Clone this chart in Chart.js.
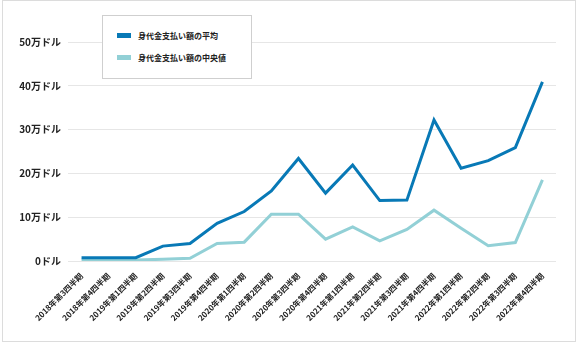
<!DOCTYPE html>
<html>
<head>
<meta charset="utf-8">
<script src="https://cdn.jsdelivr.net/npm/chart.js@4"></script>
<style>
  body { margin: 0; background: #fff; }
  #wrap { position: relative; width: 578px; height: 343px; }
  #frame { position: absolute; left: 2px; top: 0; width: 572px; height: 340px; border: 1px solid #dcdcdc; }
  #hist { position: absolute; left: 0; top: 0; }
  #legend {
    position: absolute; left: 102px; top: 15px; width: 148px; height: 62px;
    border: 1px solid #cfcfcf; background: #fff;
    font-family: "Noto Sans CJK JP", sans-serif; font-weight: bold; font-size: 8px; color: #222;
  }
  .item { position: absolute; left: 14px; height: 10px; line-height: 10px; }
  .sw { display: inline-block; width: 14px; height: 5px; vertical-align: middle; margin-right: 7px; position: relative; top: -1px; }
</style>
</head>
<body>
<div id="wrap">
  <div id="frame"></div>
  <canvas id="hist" width="578" height="343"></canvas>
  <div id="legend"></div>
</div>
<script>
var ctx = document.getElementById('hist').getContext('2d');
/*身代金支払い額*/
const quarters = ['2018年第3四半期', '2018年第4四半期', '2019年第1四半期', '2019年第2四半期', '2019年第3四半期', '2019年第4四半期',
  '2020年第1四半期', '2020年第2四半期', '2020年第3四半期', '2020年第4四半期', '2021年第1四半期', '2021年第2四半期',
  '2021年第3四半期', '2021年第4四半期', '2022年第1四半期', '2022年第2四半期', '2022年第3四半期', '2022年第4四半期'];
const seriesNames = ['身代金支払い額の平均', '身代金支払い額の中央値'];
const average = [7500, 7500, 7500, 34000, 40000, 86000, 113000, 160000, 234000, 155000, 219000, 138000, 139000, 322000, 212000, 229000, 259000, 409000];
const median = [2000, 2000, 2000, 4000, 6000, 40000, 43000, 107000, 107000, 50000, 78000, 46000, 72000, 116000, 75000, 35000, 42000, 185000];
const yTicks = [0, 100000, 200000, 300000, 400000, 500000];
const colors = ['#0879b6', '#92d0d6'];

var myChart = new Chart(ctx, {
    type: 'line',
    data: {
        labels: quarters,
        datasets: [{
            label: seriesNames[0],
            data: average,
            borderColor: colors[0],
            backgroundColor: colors[0],
            borderWidth: 3,
            pointRadius: 0,
            tension: 0
        }, {
            label: seriesNames[1],
            data: median,
            borderColor: colors[1],
            backgroundColor: colors[1],
            borderWidth: 3,
            pointRadius: 0,
            tension: 0
        }]
    },
    options: {
        responsive: false,
        animation: false,
        layout: { padding: { top: 42, right: 22, left: 0, bottom: 0 } },
        plugins: { legend: { display: false }, tooltip: { enabled: false } },
        scales: {
            x: {
                offset: true,
                grid: { display: false },
                border: { display: false },
                ticks: {
                    autoSkip: false, minRotation: 45, maxRotation: 45, padding: 2,
                    color: '#222',
                    font: { family: '"Noto Sans CJK JP", sans-serif', size: 8, weight: 'bold' }
                },
                afterFit: function (s) { s.height = 82; }
            },
            y: {
                min: 0, max: 500000,
                afterBuildTicks: function (s) { s.ticks = yTicks.map(function (v) { return { value: v }; }); },
                grid: { color: '#e6e6e6', drawTicks: false },
                border: { display: false },
                ticks: {
                    padding: 7, color: '#222',
                    font: { family: '"Noto Sans CJK JP", sans-serif', size: 10, weight: 'bold' },
                    callback: function (v) { return v === 0 ? '0ドル' : (v / 10000) + '万ドル'; }
                },
                afterFit: function (s) { s.width = 68; }
            }
        }
    }
});

// 凡例
var lg = document.getElementById('legend');
seriesNames.forEach(function (n, i) {
    var d = document.createElement('div');
    d.className = 'item';
    d.style.top = (15 + i * 22) + 'px';
    d.innerHTML = '<span class="sw" style="background:' + colors[i] + '"></span>' + n;
    lg.appendChild(d);
});
</script>
</body>
</html>
